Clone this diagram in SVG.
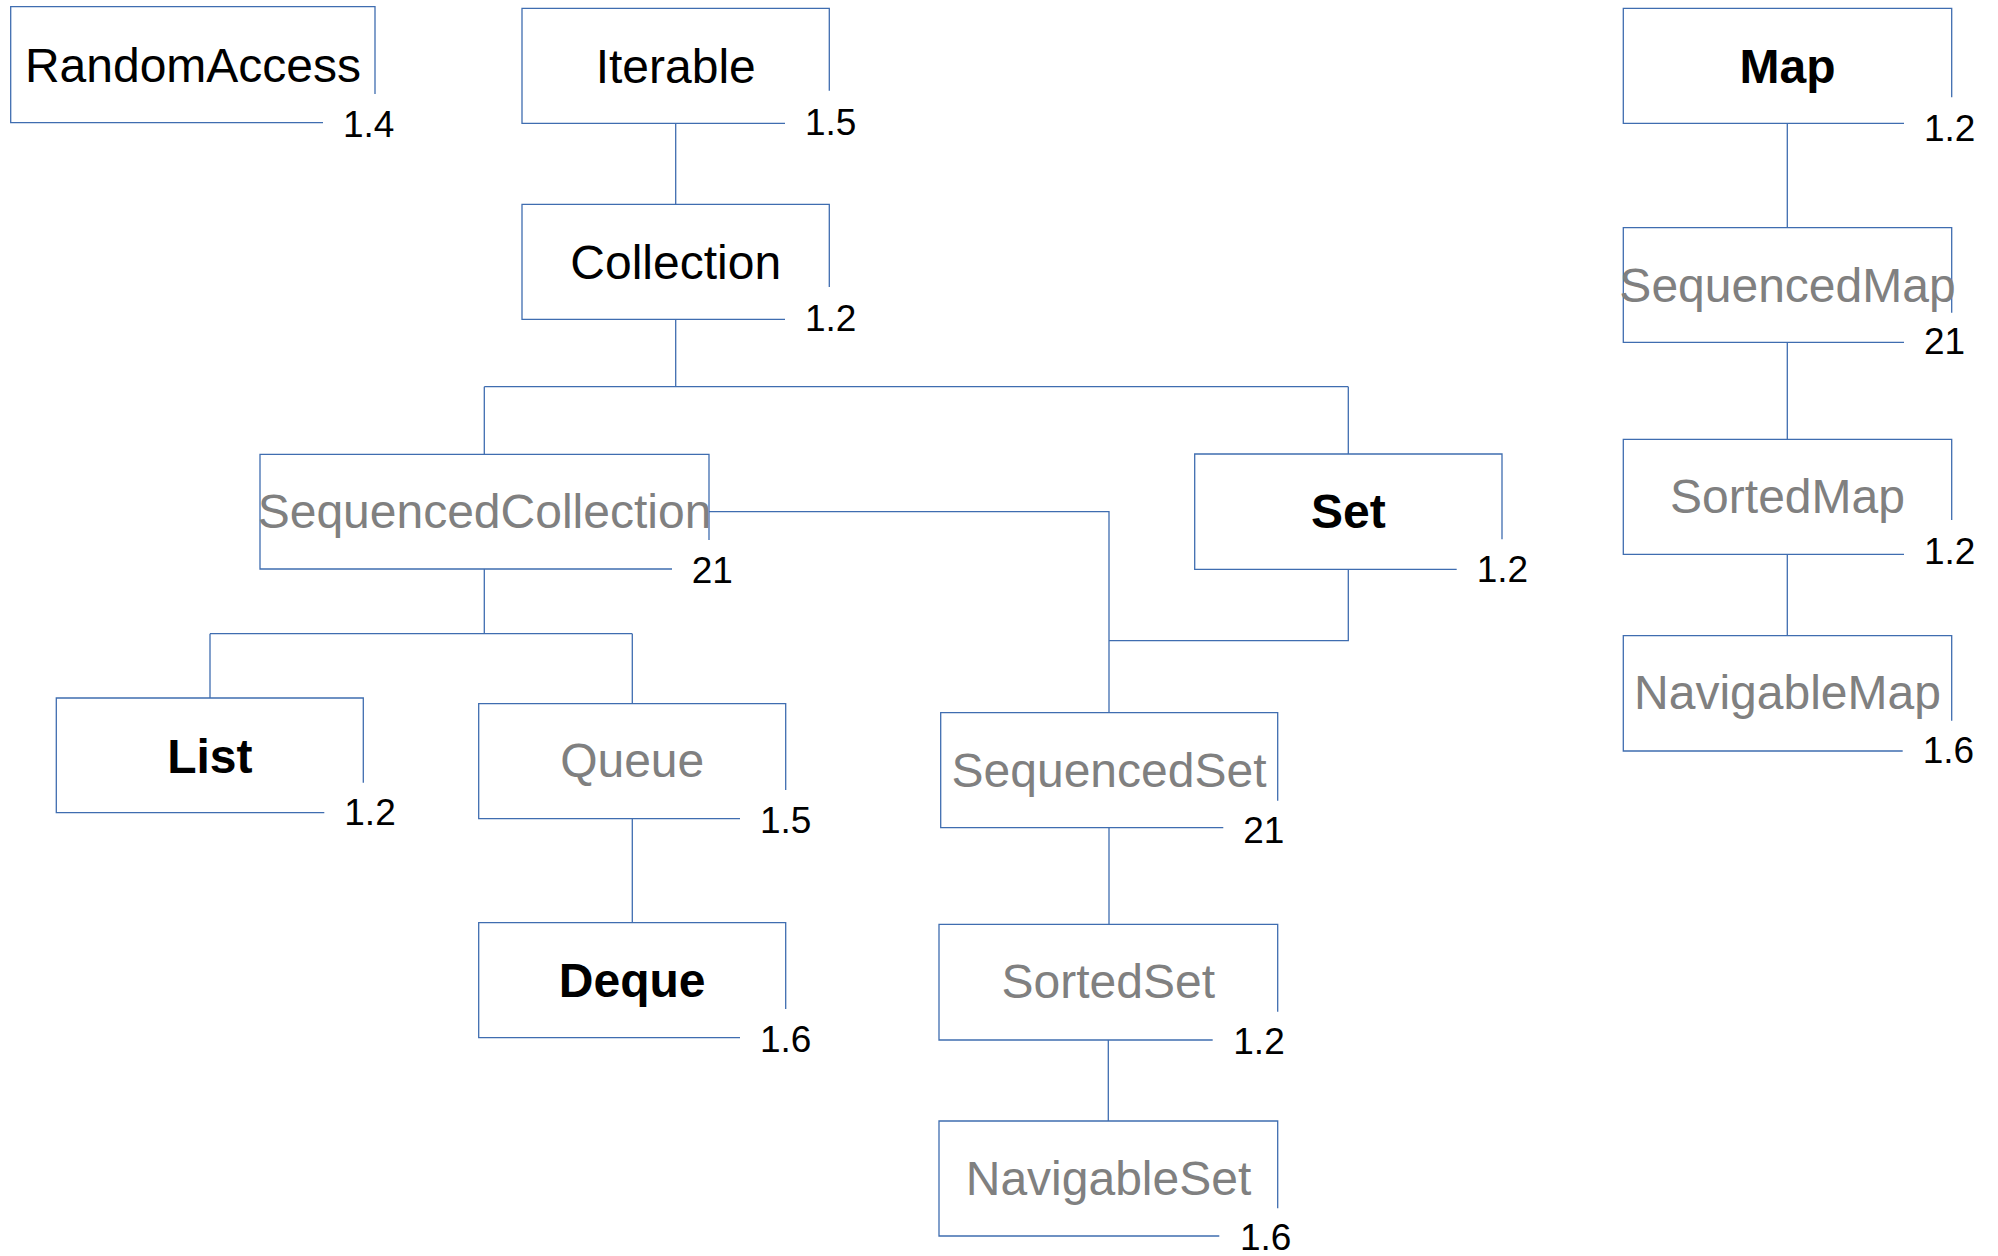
<svg xmlns="http://www.w3.org/2000/svg" width="1998" height="1256" viewBox="0 0 1998 1256">
  <style>
    .frame { fill: none; stroke: #3f6db0; stroke-width: 1.3; }
    .wire { fill: none; stroke: #3f6db0; stroke-width: 1.3; }
    .name { font-family: "Liberation Sans", Arial, sans-serif; font-size: 48px; text-anchor: middle; }
    .plain { fill: #000000; }
    .bold { fill: #000000; font-weight: bold; }
    .gray { fill: #808080; }
    .ver { font-family: "Liberation Sans", Arial, sans-serif; font-size: 37px; fill: #000000; }
  </style>
  <rect width="1998" height="1256" fill="#ffffff"/>

  <!-- connectors -->
  <g id="connectors">
    <path class="wire" d="M675.7,123.3 V204.3"/>
    <path class="wire" d="M675.7,319.3 V386.7"/>
    <path class="wire" d="M484.3,386.7 H1348.3"/>
    <path class="wire" d="M484.3,386.7 V454.3"/>
    <path class="wire" d="M1348.3,386.7 V454"/>
    <path class="wire" d="M709,511.7 H1109 V712.7"/>
    <path class="wire" d="M1348.3,569.3 V640.7 H1109"/>
    <path class="wire" d="M484.3,569 V633.7"/>
    <path class="wire" d="M210,633.7 H632.3"/>
    <path class="wire" d="M210,633.7 V698"/>
    <path class="wire" d="M632.3,633.7 V703.7"/>
    <path class="wire" d="M632.3,818.7 V922.7"/>
    <path class="wire" d="M1109,827.7 V924.3"/>
    <path class="wire" d="M1108.3,1040 V1121"/>
    <path class="wire" d="M1787.3,123.3 V227.7"/>
    <path class="wire" d="M1787.3,342.3 V439.3"/>
    <path class="wire" d="M1787.3,554.3 V635.7"/>
  </g>

  <!-- each frame is open at its lower-right corner, where the version sits -->
  <g id="RandomAccess">
    <path class="frame" d="M375,94 V6.7 H10.7 V122.7 H323"/>
    <text class="name plain" x="193" y="82">RandomAccess</text>
    <text class="ver" x="343" y="137">1.4</text>
  </g>

  <g id="Iterable">
    <path class="frame" d="M829.3,90.7 V8.3 H522 V123.3 H785"/>
    <text class="name plain" x="675.7" y="83">Iterable</text>
    <text class="ver" x="805" y="135">1.5</text>
  </g>

  <g id="Collection">
    <path class="frame" d="M829.3,287 V204.3 H522 V319.3 H785"/>
    <text class="name plain" x="675.7" y="279">Collection</text>
    <text class="ver" x="805" y="331">1.2</text>
  </g>

  <g id="SequencedCollection">
    <path class="frame" d="M709,540 V454.3 H260 V569 H672"/>
    <text class="name gray" x="484.5" y="528.3">SequencedCollection</text>
    <text class="ver" x="691.7" y="583.3">21</text>
  </g>

  <g id="Set">
    <path class="frame" d="M1502,539.3 V454 H1194.7 V569.3 H1456.7"/>
    <text class="name bold" x="1348.3" y="528.3">Set</text>
    <text class="ver" x="1476.7" y="581.7">1.2</text>
  </g>

  <g id="List">
    <path class="frame" d="M363.3,782.7 V698 H56.3 V812.7 H324.3"/>
    <text class="name bold" x="209.8" y="772.7">List</text>
    <text class="ver" x="344.3" y="825">1.2</text>
  </g>

  <g id="Queue">
    <path class="frame" d="M785.7,790 V703.7 H478.7 V818.7 H740"/>
    <text class="name gray" x="632.2" y="776.7">Queue</text>
    <text class="ver" x="760" y="833.3">1.5</text>
  </g>

  <g id="Deque">
    <path class="frame" d="M785.7,1009 V922.7 H478.7 V1037.7 H740"/>
    <text class="name bold" x="632.2" y="996.7">Deque</text>
    <text class="ver" x="760" y="1052.3">1.6</text>
  </g>

  <g id="SequencedSet">
    <path class="frame" d="M1277.7,800.7 V712.7 H940.7 V827.7 H1223.3"/>
    <text class="name gray" x="1109" y="786.7">SequencedSet</text>
    <text class="ver" x="1243.3" y="843.3">21</text>
  </g>

  <g id="SortedSet">
    <path class="frame" d="M1277.7,1011.7 V924.3 H939 V1040 H1212.7"/>
    <text class="name gray" x="1108.3" y="998.3">SortedSet</text>
    <text class="ver" x="1233.3" y="1054.3">1.2</text>
  </g>

  <g id="NavigableSet">
    <path class="frame" d="M1277.7,1208.3 V1121 H939 V1236 H1219.3"/>
    <text class="name gray" x="1108.5" y="1195">NavigableSet</text>
    <text class="ver" x="1240" y="1250">1.6</text>
  </g>

  <g id="Map">
    <path class="frame" d="M1951.7,97.3 V8.3 H1623.3 V123.3 H1904"/>
    <text class="name bold" x="1787.5" y="83.3">Map</text>
    <text class="ver" x="1924" y="141">1.2</text>
  </g>

  <g id="SequencedMap">
    <path class="frame" d="M1951.7,312.7 V227.7 H1623.3 V342.3 H1904"/>
    <text class="name gray" x="1787.5" y="301.7">SequencedMap</text>
    <text class="ver" x="1924" y="354">21</text>
  </g>

  <g id="SortedMap">
    <path class="frame" d="M1951.7,520 V439.3 H1623.3 V554.3 H1904"/>
    <text class="name gray" x="1787.5" y="513.3">SortedMap</text>
    <text class="ver" x="1924" y="564.3">1.2</text>
  </g>

  <g id="NavigableMap">
    <path class="frame" d="M1951.7,720.7 V635.7 H1623.3 V751 H1902.7"/>
    <text class="name gray" x="1787.5" y="709.3">NavigableMap</text>
    <text class="ver" x="1922.7" y="763.3">1.6</text>
  </g>
</svg>
